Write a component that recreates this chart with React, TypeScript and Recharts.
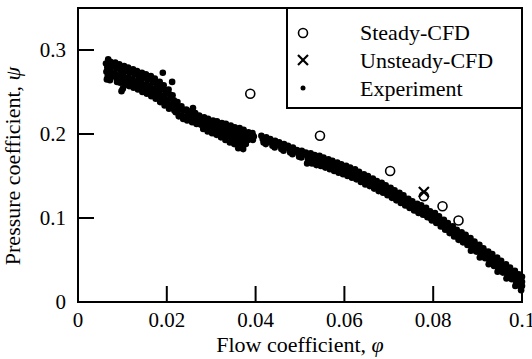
import React from 'react';
import { Legend, ReferenceArea, Scatter, ScatterChart, XAxis, YAxis } from 'recharts';

const FONT = "'Times New Roman', Times, 'Liberation Serif', 'DejaVu Serif', 'Noto Serif', FreeSerif, serif";

// [phi, psi]
const steadyCfd: [number, number][] = [
  [0.0388, 0.248],
  [0.0545, 0.198],
  [0.0703, 0.156],
  [0.0779, 0.126],
  [0.0821, 0.114],
  [0.0857, 0.097],
];

const unsteadyCfd: [number, number][] = [[0.0779, 0.131]];

const experiment: [number, number][] = [
  [0.0068, 0.289], [0.0063, 0.284], [0.0066, 0.279], [0.0064, 0.274], [0.0067, 0.269], [0.0065, 0.265],
  [0.0073, 0.286], [0.0077, 0.280], [0.0074, 0.274], [0.0076, 0.269], [0.0072, 0.264],
  [0.0084, 0.285], [0.0087, 0.278], [0.0083, 0.272], [0.0086, 0.267], [0.0088, 0.262],
  [0.0093, 0.283], [0.0096, 0.276], [0.0094, 0.270], [0.0097, 0.265], [0.0095, 0.261],
  [0.0104, 0.281], [0.0106, 0.275], [0.0103, 0.269], [0.0107, 0.263], [0.0105, 0.259],
  [0.0113, 0.279], [0.0116, 0.273], [0.0114, 0.267], [0.0117, 0.262], [0.0115, 0.257],
  [0.0098, 0.251], [0.0101, 0.254],
  [0.0124, 0.277], [0.0127, 0.271], [0.0123, 0.265], [0.0126, 0.260], [0.0125, 0.255],
  [0.0133, 0.275], [0.0136, 0.269], [0.0134, 0.263], [0.0137, 0.258], [0.0135, 0.253],
  [0.0144, 0.273], [0.0146, 0.267], [0.0143, 0.261], [0.0147, 0.255], [0.0145, 0.250],
  [0.0153, 0.271], [0.0156, 0.265], [0.0154, 0.259], [0.0157, 0.253], [0.0155, 0.248],
  [0.0164, 0.269], [0.0167, 0.263], [0.0163, 0.257], [0.0166, 0.251], [0.0165, 0.245],
  [0.0173, 0.266], [0.0176, 0.260], [0.0174, 0.254], [0.0177, 0.248], [0.0175, 0.242],
  [0.0191, 0.273], [0.0212, 0.262],
  [0.0184, 0.262], [0.0186, 0.256], [0.0183, 0.250], [0.0187, 0.244], [0.0185, 0.238],
  [0.0193, 0.258], [0.0196, 0.252], [0.0194, 0.246], [0.0197, 0.240], [0.0195, 0.234],
  [0.0204, 0.253], [0.0207, 0.247], [0.0203, 0.241], [0.0206, 0.235], [0.0205, 0.230],
  [0.0213, 0.246], [0.0216, 0.240], [0.0214, 0.234], [0.0217, 0.228],
  [0.0224, 0.238], [0.0226, 0.232], [0.0223, 0.226], [0.0227, 0.221],
  [0.0070, 0.283], [0.0070, 0.272], [0.0080, 0.282], [0.0080, 0.270],
  [0.0090, 0.279], [0.0090, 0.268], [0.0100, 0.278], [0.0100, 0.266],
  [0.0110, 0.276], [0.0110, 0.264], [0.0120, 0.274], [0.0120, 0.262],
  [0.0130, 0.272], [0.0130, 0.260], [0.0140, 0.270], [0.0140, 0.258],
  [0.0150, 0.268], [0.0150, 0.256], [0.0160, 0.266], [0.0160, 0.254],
  [0.0170, 0.263], [0.0170, 0.251], [0.0180, 0.259], [0.0180, 0.247],
  [0.0190, 0.255], [0.0190, 0.243], [0.0200, 0.250], [0.0200, 0.238],
  [0.0210, 0.244], [0.0210, 0.233], [0.0220, 0.236], [0.0220, 0.226],
  [0.0233, 0.233], [0.0236, 0.228], [0.0234, 0.222], [0.0237, 0.218],
  [0.0244, 0.229], [0.0247, 0.224], [0.0243, 0.219], [0.0246, 0.216],
  [0.0253, 0.227], [0.0256, 0.222], [0.0254, 0.217], [0.0257, 0.214], [0.0259, 0.231],
  [0.0264, 0.225], [0.0266, 0.220], [0.0263, 0.215], [0.0267, 0.212],
  [0.0273, 0.222], [0.0276, 0.218], [0.0274, 0.214], [0.0277, 0.211],
  [0.0284, 0.220], [0.0286, 0.216], [0.0283, 0.212], [0.0287, 0.209],
  [0.0293, 0.218], [0.0296, 0.214], [0.0294, 0.210], [0.0297, 0.207],
  [0.0304, 0.216], [0.0306, 0.212], [0.0303, 0.208], [0.0307, 0.205],
  [0.0313, 0.215], [0.0316, 0.210], [0.0314, 0.206], [0.0317, 0.202],
  [0.0324, 0.213], [0.0326, 0.208], [0.0323, 0.204], [0.0327, 0.200],
  [0.0333, 0.212], [0.0336, 0.207], [0.0334, 0.202], [0.0337, 0.197],
  [0.0344, 0.210], [0.0346, 0.205], [0.0343, 0.200], [0.0347, 0.195],
  [0.0353, 0.208], [0.0356, 0.203], [0.0354, 0.198], [0.0357, 0.192],
  [0.0364, 0.207], [0.0366, 0.201], [0.0363, 0.196], [0.0367, 0.190],
  [0.0282, 0.206], [0.0292, 0.203], [0.0302, 0.201], [0.0312, 0.199],
  [0.0322, 0.196], [0.0332, 0.193], [0.0342, 0.190], [0.0352, 0.188],
  [0.0362, 0.187], [0.0369, 0.185], [0.0378, 0.188],
  [0.0361, 0.183], [0.0372, 0.182],
  [0.0373, 0.205], [0.0376, 0.200], [0.0374, 0.195], [0.0377, 0.191],
  [0.0384, 0.202], [0.0386, 0.198], [0.0383, 0.193],
  [0.0393, 0.201], [0.0396, 0.197], [0.0394, 0.193],
  [0.0413, 0.198], [0.0416, 0.194], [0.0418, 0.190],
  [0.0424, 0.196], [0.0426, 0.192], [0.0423, 0.188],
  [0.0433, 0.194], [0.0436, 0.190], [0.0438, 0.186],
  [0.0444, 0.192], [0.0446, 0.188], [0.0443, 0.184],
  [0.0453, 0.190], [0.0456, 0.186], [0.0458, 0.182],
  [0.0464, 0.188], [0.0466, 0.184], [0.0463, 0.180],
  [0.0473, 0.186], [0.0476, 0.182], [0.0478, 0.178],
  [0.0484, 0.184], [0.0486, 0.180], [0.0483, 0.176],
  [0.0493, 0.181], [0.0496, 0.177], [0.0498, 0.173],
  [0.0504, 0.180], [0.0507, 0.176], [0.0503, 0.172],
  [0.0513, 0.178], [0.0516, 0.174], [0.0518, 0.170], [0.0516, 0.165],
  [0.0524, 0.177], [0.0526, 0.173], [0.0523, 0.169], [0.0527, 0.165],
  [0.0533, 0.175], [0.0536, 0.171], [0.0534, 0.167], [0.0537, 0.163],
  [0.0544, 0.174], [0.0546, 0.170], [0.0543, 0.166], [0.0547, 0.162],
  [0.0553, 0.172], [0.0556, 0.168], [0.0554, 0.164], [0.0557, 0.160],
  [0.0564, 0.170], [0.0566, 0.166], [0.0563, 0.162], [0.0567, 0.158],
  [0.0573, 0.168], [0.0576, 0.164], [0.0574, 0.160], [0.0577, 0.156],
  [0.0584, 0.166], [0.0586, 0.162], [0.0583, 0.158], [0.0587, 0.154],
  [0.0593, 0.164], [0.0596, 0.160], [0.0594, 0.156], [0.0597, 0.152],
  [0.0604, 0.162], [0.0606, 0.158], [0.0603, 0.154], [0.0607, 0.150],
  [0.0613, 0.160], [0.0616, 0.156], [0.0614, 0.152], [0.0617, 0.148],
  [0.0624, 0.158], [0.0626, 0.154], [0.0623, 0.150], [0.0627, 0.146],
  [0.0633, 0.155], [0.0636, 0.151], [0.0634, 0.147], [0.0637, 0.143],
  [0.0644, 0.152], [0.0646, 0.148], [0.0643, 0.144], [0.0647, 0.140],
  [0.0653, 0.150], [0.0656, 0.146], [0.0654, 0.142], [0.0657, 0.138],
  [0.0664, 0.147], [0.0666, 0.143], [0.0663, 0.139], [0.0667, 0.135],
  [0.0673, 0.144], [0.0676, 0.140], [0.0674, 0.136], [0.0677, 0.132],
  [0.0684, 0.142], [0.0686, 0.138], [0.0683, 0.134], [0.0687, 0.130],
  [0.0693, 0.139], [0.0696, 0.135], [0.0694, 0.131], [0.0697, 0.127],
  [0.0704, 0.136], [0.0706, 0.132], [0.0703, 0.128], [0.0707, 0.124],
  [0.0713, 0.133], [0.0716, 0.129], [0.0714, 0.125], [0.0717, 0.121],
  [0.0724, 0.130], [0.0726, 0.126], [0.0723, 0.122], [0.0727, 0.118],
  [0.0733, 0.127], [0.0736, 0.123], [0.0734, 0.119], [0.0737, 0.115],
  [0.0744, 0.123], [0.0746, 0.119], [0.0743, 0.115], [0.0747, 0.112],
  [0.0753, 0.120], [0.0756, 0.116], [0.0754, 0.112], [0.0757, 0.109],
  [0.0764, 0.117], [0.0766, 0.113], [0.0763, 0.109], [0.0767, 0.106],
  [0.0773, 0.115], [0.0776, 0.111], [0.0774, 0.107], [0.0777, 0.104],
  [0.0784, 0.112], [0.0786, 0.108], [0.0783, 0.104], [0.0787, 0.101],
  [0.0793, 0.108], [0.0796, 0.104], [0.0794, 0.100], [0.0797, 0.097],
  [0.0804, 0.106], [0.0806, 0.102], [0.0803, 0.098], [0.0807, 0.094],
  [0.0813, 0.102], [0.0816, 0.098], [0.0814, 0.094], [0.0817, 0.090],
  [0.0824, 0.098], [0.0826, 0.094], [0.0823, 0.090], [0.0827, 0.086],
  [0.0833, 0.094], [0.0836, 0.090], [0.0834, 0.086], [0.0837, 0.082],
  [0.0844, 0.090], [0.0846, 0.086], [0.0843, 0.082], [0.0847, 0.078],
  [0.0853, 0.086], [0.0856, 0.082], [0.0854, 0.078], [0.0857, 0.074],
  [0.0864, 0.083], [0.0866, 0.079], [0.0863, 0.075], [0.0867, 0.071],
  [0.0873, 0.080], [0.0876, 0.076], [0.0874, 0.072], [0.0877, 0.068],
  [0.0884, 0.076], [0.0886, 0.072], [0.0883, 0.068], [0.0887, 0.064],
  [0.0893, 0.072], [0.0896, 0.068], [0.0894, 0.064], [0.0897, 0.060],
  [0.0904, 0.068], [0.0906, 0.064], [0.0903, 0.060], [0.0907, 0.056],
  [0.0913, 0.064], [0.0916, 0.060], [0.0914, 0.056], [0.0917, 0.052],
  [0.0924, 0.060], [0.0926, 0.056], [0.0923, 0.052], [0.0927, 0.048],
  [0.0933, 0.057], [0.0936, 0.052], [0.0934, 0.048], [0.0937, 0.043],
  [0.0944, 0.053], [0.0946, 0.048], [0.0943, 0.044], [0.0947, 0.039],
  [0.0953, 0.049], [0.0956, 0.044], [0.0954, 0.040], [0.0957, 0.035],
  [0.0964, 0.045], [0.0966, 0.040], [0.0963, 0.036], [0.0967, 0.031],
  [0.0973, 0.041], [0.0976, 0.036], [0.0974, 0.032], [0.0977, 0.027],
  [0.0984, 0.037], [0.0986, 0.032], [0.0983, 0.027], [0.0987, 0.022],
  [0.0993, 0.033], [0.0996, 0.028], [0.0994, 0.023], [0.0997, 0.018],
  [0.1, 0.030], [0.1, 0.024], [0.1, 0.019],
  [0.0885, 0.061], [0.0905, 0.053], [0.0925, 0.045], [0.0945, 0.036],
  [0.0965, 0.028], [0.0985, 0.019], [0.0998, 0.014],
];

const xTicks = [0, 0.02, 0.04, 0.06, 0.08, 0.1];
const yTicks = [0, 0.1, 0.2, 0.3];

const toRows = (pts: [number, number][]) => pts.map(([phi, psi]) => ({ phi, psi }));

const XTick = ({ x, y, payload }: any) => (
  <g>
    {payload.value > 0 && payload.value < 0.1 && (
      <line x1={x} y1={y} x2={x} y2={y - 16} stroke="#000" strokeWidth={2} />
    )}
    <text x={x} y={y + 25} textAnchor="middle" fontSize={21} style={{ fontFamily: FONT }} fill="#000">
      {String(payload.value)}
    </text>
  </g>
);

const YTick = ({ x, y, payload }: any) => (
  <g>
    {payload.value > 0 && <line x1={x} y1={y} x2={x + 16} y2={y} stroke="#000" strokeWidth={2} />}
    <text x={x - 12} y={y + 7} textAnchor="end" fontSize={21} style={{ fontFamily: FONT }} fill="#000">
      {String(payload.value)}
    </text>
  </g>
);

const OpenCircle = ({ cx, cy }: any) => (
  <circle cx={cx} cy={cy} r={4.5} fill="none" stroke="#000" strokeWidth={1.6} />
);

const Cross = ({ cx, cy }: any) => (
  <g stroke="#000" strokeWidth={2.2}>
    <line x1={cx - 5} y1={cy - 5} x2={cx + 5} y2={cy + 5} />
    <line x1={cx - 5} y1={cy + 5} x2={cx + 5} y2={cy - 5} />
  </g>
);

const Dot = ({ cx, cy }: any) => <circle cx={cx} cy={cy} r={3.3} fill="#000" />;

const LegendBox = () => (
  <div
    style={{
      width: 237,
      height: 102,
      boxSizing: 'border-box',
      border: '2px solid #000',
      background: '#fff',
    }}
  >
    <svg width={233} height={98} style={{ display: 'block' }}>
      <circle cx={15} cy={24} r={4.5} fill="none" stroke="#000" strokeWidth={1.6} />
      <g stroke="#000" strokeWidth={2.2}>
        <line x1={10} y1={46} x2={20} y2={56} />
        <line x1={10} y1={56} x2={20} y2={46} />
      </g>
      <circle cx={15} cy={79} r={2.5} fill="#000" />
      <g fontSize={22} style={{ fontFamily: FONT }} fill="#000">
        <text x={72} y={31}>Steady-CFD</text>
        <text x={72} y={59}>Unsteady-CFD</text>
        <text x={72} y={87}>Experiment</text>
      </g>
    </svg>
  </div>
);

export default function App() {
  return (
    <div
      style={{
        position: 'absolute',
        left: 0,
        top: 0,
        width: 532,
        height: 359,
        background: '#fff',
        fontFamily: FONT,
      }}
    >
      <ScatterChart width={532} height={359} margin={{ top: 8, right: 10, bottom: 0, left: 0 }}>
        <XAxis
          type="number"
          dataKey="phi"
          domain={[0, 0.1]}
          ticks={xTicks}
          height={57}
          tickSize={0}
          tickMargin={0}
          tickLine={false}
          axisLine={{ stroke: '#000', strokeWidth: 2 }}
          tick={<XTick />}
          interval={0}
        />
        <YAxis
          type="number"
          dataKey="psi"
          domain={[0, 0.35]}
          ticks={yTicks}
          width={78}
          tickSize={0}
          tickMargin={0}
          tickLine={false}
          axisLine={{ stroke: '#000', strokeWidth: 2 }}
          tick={<YTick />}
          interval={0}
        />
        <ReferenceArea x1={0} x2={0.1} y1={0} y2={0.35} fill="none" stroke="#000" strokeWidth={2} />
        <Scatter data={toRows(experiment)} shape={<Dot />} isAnimationActive={false} />
        <Scatter data={toRows(steadyCfd)} shape={<OpenCircle />} isAnimationActive={false} />
        <Scatter data={toRows(unsteadyCfd)} shape={<Cross />} isAnimationActive={false} />
        <Legend
          layout="vertical"
          align="center"
          verticalAlign="middle"
          wrapperStyle={{ left: 286, top: 7, width: 237 }}
          content={<LegendBox />}
        />
        <text x={300} y={352} textAnchor="middle" fontSize={22} style={{ fontFamily: FONT }} fill="#000">
          Flow coefficient, <tspan fontStyle="italic">φ</tspan>
        </text>
        <text
          x={0}
          y={0}
          transform="translate(20, 166) rotate(-90)"
          textAnchor="middle"
          fontSize={22}
          style={{ fontFamily: FONT }}
          fill="#000"
        >
          Pressure coefficient, <tspan fontStyle="italic">ψ</tspan>
        </text>
      </ScatterChart>
    </div>
  );
}
